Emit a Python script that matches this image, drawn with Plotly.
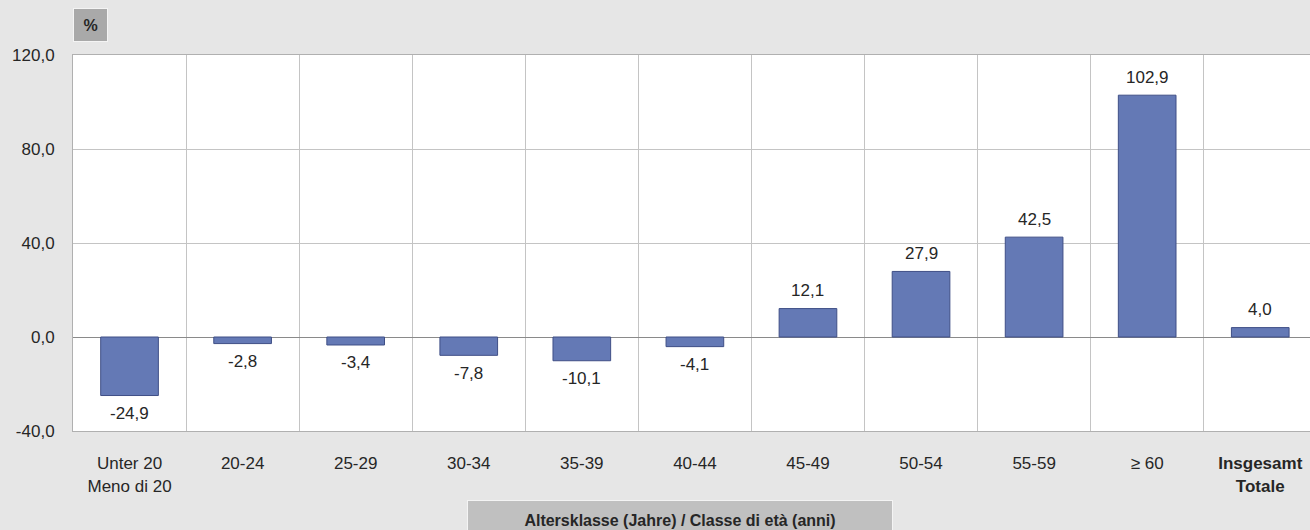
import plotly.graph_objects as go

categories = ["Unter 20<br>Meno di 20", "20-24", "25-29", "30-34", "35-39", "40-44",
              "45-49", "50-54", "55-59", "≥ 60", "<b>Insgesamt</b><br><b>Totale</b>"]
values = [-24.9, -2.8, -3.4, -7.8, -10.1, -4.1, 12.1, 27.9, 42.5, 102.9, 4.0]
y_ticks = [-40, 0, 40, 80, 120]

xpos = list(range(len(categories)))
labels = [f"{v:.1f}".replace(".", ",") for v in values]
y_ticktext = [f"{v:.1f}".replace(".", ",") for v in y_ticks]

FONT = "Liberation Sans, Arial, sans-serif"
TXT = "#262626"

fig = go.Figure()
fig.add_trace(go.Bar(
    x=xpos, y=values, width=0.51,
    marker=dict(color="#6479b5", line=dict(color="#3f4f86", width=1)),
    hoverinfo="skip",
))

for xi, v, lab in zip(xpos, values, labels):
    fig.add_annotation(
        x=xi, y=v, xref="x", yref="y", text=lab, showarrow=False,
        yanchor="middle", yshift=18 if v >= 0 else -18,
        font=dict(family=FONT, size=17, color=TXT),
    )

fig.update_layout(
    width=1310, height=530,
    margin=dict(l=73, r=0, t=55, b=99),
    paper_bgcolor="#e6e6e6", plot_bgcolor="#ffffff",
    showlegend=False,
    font=dict(family=FONT, size=17, color=TXT),
    xaxis=dict(
        range=[-0.5, 10.44],
        tickmode="array", tickvals=xpos, ticktext=categories,
        showgrid=False, zeroline=False,
        ticks="outside", ticklen=17, tickcolor="rgba(0,0,0,0)",
        showline=True, linecolor="#b0b0b0", mirror=True,
        minor=dict(tickmode="linear", tick0=0.5, dtick=1, showgrid=True,
                   gridcolor="#c4c4c4", gridwidth=1, ticks=""),
        tickfont=dict(size=17),
        fixedrange=True,
    ),
    yaxis=dict(
        range=[-40, 120], tickmode="array", tickvals=y_ticks, ticktext=y_ticktext,
        showgrid=True, gridcolor="#c4c4c4", gridwidth=1,
        zeroline=True, zerolinecolor="#8a8a8a", zerolinewidth=1,
        showline=True, linecolor="#b0b0b0", mirror=True,
        ticks="outside", ticklen=14, tickcolor="rgba(0,0,0,0)",
        tickfont=dict(size=17),
        fixedrange=True,
    ),
)

# "%" label box
fig.add_annotation(
    xref="paper", yref="paper", x=0.0, y=1.0, xanchor="left", yanchor="bottom",
    yshift=13, xshift=0,
    text="<b>%</b>", showarrow=False,
    font=dict(size=16, color=TXT),
    bgcolor="#a9a9a9", bordercolor="#f4f4f4", borderwidth=1,
    width=31, height=30, borderpad=1,
)

# axis title box
fig.add_annotation(
    xref="paper", yref="paper", x=(680 - 73) / 1237, y=0, xanchor="center", yanchor="top",
    yshift=-69,
    text="<b>Altersklasse (Jahre) / Classe di età (anni)</b>", showarrow=False,
    font=dict(size=16, color=TXT),
    bgcolor="#c0c0c0", bordercolor="#f4f4f4", borderwidth=1,
    width=424, height=38, borderpad=0,
)

fig.write_html("out.html", config={"displayModeBar": False},
               post_script="document.body.style.margin='0px';document.body.style.overflow='hidden';")
